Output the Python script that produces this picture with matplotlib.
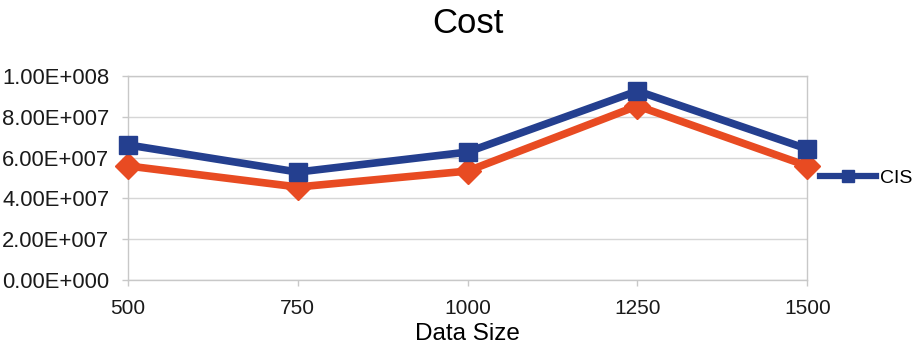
import matplotlib
matplotlib.use("Agg")
import matplotlib.pyplot as plt

plt.rcParams['font.family'] = ['Liberation Sans', 'DejaVu Sans']

sizes = [500, 750, 1000, 1250, 1500]
cis = [66.2e6, 52.9e6, 62.7e6, 92.6e6, 64.2e6]
other = [55.9e6, 45.6e6, 53.4e6, 85.3e6, 55.9e6]
yticks = [0, 2e7, 4e7, 6e7, 8e7, 1e8]
ylabels = ["0.00E+000", "2.00E+007", "4.00E+007", "6.00E+007", "8.00E+007", "1.00E+008"]

blue = "#243F8F"
orange = "#E84B22"

fig = plt.figure(figsize=(9.18, 3.48), dpi=100)
ax = fig.add_axes([0.1394, 0.195, 0.7400, 0.587])

ax.plot(sizes, other, color=orange, lw=5.5, marker='D', ms=13, zorder=3)
ax.plot(sizes, cis, color=blue, lw=5.5, marker='s', ms=13, zorder=4, label="CIS")

ax.set_xlim(500, 1500)
ax.set_ylim(0, 1e8)
ax.set_xticks(sizes)
ax.set_xticklabels([str(s) for s in sizes])
ax.set_yticks(yticks)
ax.set_yticklabels(ylabels)
ax.tick_params(axis='both', color="#c8c8c8", length=4.5, width=1, labelcolor="#1a1a1a")
ax.tick_params(axis='y', labelsize=15.8, pad=9)
ax.tick_params(axis='x', labelsize=15, pad=9)

ax.grid(axis='y', color="#d6d6d6", lw=1)
for s in ax.spines.values():
    s.set_color("#c8c8c8")
    s.set_linewidth(1)
ax.set_axisbelow(True)

for p in ax.lines[:2]:
    p.set_clip_on(False)

ax.set_title("Cost", fontsize=25, pad=31)
ax.set_xlabel("Data Size", fontsize=17.5, labelpad=4)

leg = ax.legend(loc='center left', bbox_to_anchor=(1.018, 0.5), frameon=False,
                fontsize=14, handlelength=2.9, handletextpad=0.2, borderaxespad=0,
                borderpad=0)
for h in leg.legend_handles:
    h.set_markersize(9)
    h.set_linewidth(4.5)

fig.savefig("out.png", dpi=100)
